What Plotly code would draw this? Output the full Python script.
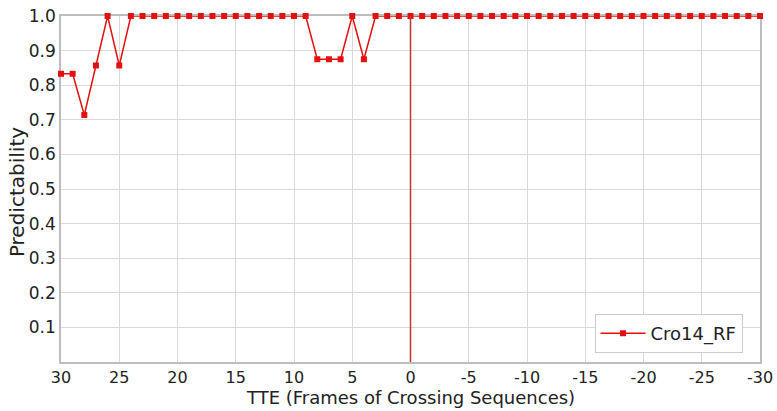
import plotly.graph_objects as go

# TTE frames, counting down from 30 through 0 to -30
tte = list(range(30, -31, -1))

# Predictability of Cro14_RF at each frame
predictability = (
    [0.833, 0.833, 0.714, 0.857, 1.0, 0.857]      # 30..25
    + [1.0] * 16                                   # 24..9
    + [0.875, 0.875, 0.875, 1.0, 0.875]            # 8..4
    + [1.0] * 34                                   # 3..-30
)

x_ticks = [30, 25, 20, 15, 10, 5, 0, -5, -10, -15, -20, -25, -30]
x_tick_text = ["30", "25", "20", "15", "10", "5", "0", "-5", "-10", "-15", "-20", "-25", "-30"]
y_ticks = [0.1, 0.2, 0.3, 0.4, 0.5, 0.6, 0.7, 0.8, 0.9, 1.0]
y_tick_text = ["0.1", "0.2", "0.3", "0.4", "0.5", "0.6", "0.7", "0.8", "0.9", "1.0"]
crossing_frame = 0

fig = go.Figure()
fig.add_trace(go.Scatter(
    x=tte, y=predictability, mode="lines+markers", name="Cro14_RF",
    line=dict(color="#e31010", width=1.5),
    marker=dict(symbol="square", size=6, color="#e31010"),
    cliponaxis=False,
))

# event marker at the crossing frame
fig.add_shape(type="line", xref="x", yref="paper",
              x0=crossing_frame, x1=crossing_frame, y0=0, y1=1,
              line=dict(color="#c83030", width=1.5))

axis_common = dict(
    showgrid=True, gridcolor="#d9d9d9", gridwidth=1,
    showline=True, linecolor="#bdbdbd", linewidth=1.5, mirror=True,
    layer="below traces", automargin=False,
    ticks="", zeroline=False,
)

fig.update_layout(
    width=777, height=411,
    margin=dict(l=61, r=17, t=16, b=49),
    paper_bgcolor="white", plot_bgcolor="white",
    font=dict(family="DejaVu Sans", color="#222"),
    xaxis=dict(range=[30, -30], tickvals=x_ticks, ticktext=x_tick_text,
               tickfont=dict(family="DejaVu Sans", size=16, color="#222"),
               **axis_common),
    yaxis=dict(range=[0, 1.0], tickvals=y_ticks, ticktext=y_tick_text,
               tickfont=dict(family="DejaVu Sans", size=17, color="#222"),
               **axis_common),
    legend=dict(x=0.975, y=0.026, xanchor="right", yanchor="bottom",
                bgcolor="white", bordercolor="#cccccc", borderwidth=1,
                itemwidth=45, font=dict(size=18)),
    showlegend=True,
)

# axis titles
fig.add_annotation(text="TTE (Frames of Crossing Sequences)",
                   xref="paper", yref="paper", x=0.5, y=-0.138,
                   xanchor="center", yanchor="bottom", showarrow=False,
                   font=dict(size=18, color="#222"))
fig.add_annotation(text="Predictability", textangle=-90,
                   xref="paper", yref="paper", x=-0.062, y=0.49,
                   xanchor="center", yanchor="middle", showarrow=False,
                   font=dict(size=20, color="#222"))

fig.write_html("out.html")
